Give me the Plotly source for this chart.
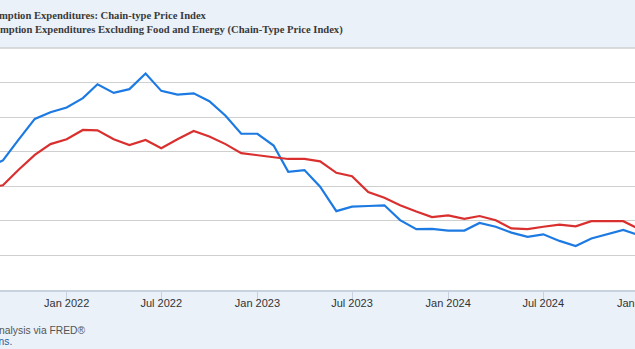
import datetime as dt
import plotly.graph_objects as go

months = ["2021-08", "2021-09", "2021-10", "2021-11", "2021-12",
          "2022-01", "2022-02", "2022-03", "2022-04", "2022-05", "2022-06",
          "2022-07", "2022-08", "2022-09", "2022-10", "2022-11", "2022-12",
          "2023-01", "2023-02", "2023-03", "2023-04", "2023-05", "2023-06",
          "2023-07", "2023-08", "2023-09", "2023-10", "2023-11", "2023-12",
          "2024-01", "2024-02", "2024-03", "2024-04", "2024-05", "2024-06",
          "2024-07", "2024-08", "2024-09", "2024-10", "2024-11", "2024-12",
          "2025-01"]

pce = [4.51, 4.75, 5.35, 5.95, 6.14,
       6.28, 6.55, 6.95, 6.70, 6.81, 7.26,
       6.76, 6.65, 6.69, 6.46, 6.04, 5.52,
       5.52, 5.18, 4.42, 4.47, 3.99, 3.28,
       3.41, 3.43, 3.45, 3.02, 2.76, 2.77,
       2.72, 2.72, 2.94, 2.83, 2.66, 2.54,
       2.61, 2.42, 2.27, 2.49, 2.61, 2.74,
       2.58]

core_pce = [3.95, 4.03, 4.48, 4.91, 5.22,
            5.36, 5.63, 5.62, 5.36, 5.19, 5.34,
            5.10, 5.36, 5.60, 5.44, 5.22, 4.96,
            4.91, 4.84, 4.79, 4.79, 4.72, 4.39,
            4.29, 3.83, 3.67, 3.45, 3.27, 3.11,
            3.16, 3.06, 3.14, 3.02, 2.78, 2.76,
            2.83, 2.89, 2.84, 2.99, 2.99, 2.99,
            2.76]

tick_dates = ["2022-01-01", "2022-07-01", "2023-01-01", "2023-07-01",
              "2024-01-01", "2024-07-01"]
tick_labels = ["Jan 2022", "Jul 2022", "Jan 2023", "Jul 2023",
               "Jan 2024", "Jul 2024"]
edge_tick_date = "2025-01-01"
edge_tick_label = "Jan 2025"

series1_name = "Personal Consumption Expenditures: Chain-type Price Index"
series2_name = "Personal Consumption Expenditures Excluding Food and Energy (Chain-Type Price Index)"
source_text = "Source: U.S. Bureau of Economic Analysis via FRED®"
recession_text = "Shaded areas indicate U.S. recessions."

dates = [m + "-01" for m in months]

W, H = 635, 349
T, B = 48, 59
plot_h = H - T - B

x_range = [dt.datetime(2021, 8, 26, 10), dt.datetime(2024, 12, 23, 12)]


def date_frac(s):
    d = dt.datetime.fromisoformat(s)
    return (d - x_range[0]).total_seconds() / (x_range[1] - x_range[0]).total_seconds()


fig = go.Figure()
fig.add_trace(go.Scatter(x=dates, y=pce, mode="lines", name=series1_name,
                         line=dict(color="#1c7ae2", width=2.2)))
fig.add_trace(go.Scatter(x=dates, y=core_pce, mode="lines", name=series2_name,
                         line=dict(color="#d9302f", width=2.2)))


def py(pix):
    return (H - B - pix) / plot_h


annotations = [
    dict(text="<b>" + series1_name + "</b>", x=209 / W, y=py(15.5), xanchor="right",
         yanchor="middle", font=dict(family="Liberation Serif", size=10.6, color="#3a3a3a")),
    dict(text="<b>" + series2_name + "</b>", x=345 / W, y=py(29.5), xanchor="right",
         yanchor="middle", font=dict(family="Liberation Serif", size=10.6, color="#3a3a3a")),
    dict(text=source_text, x=87.5 / W, y=py(330), xanchor="right", yanchor="middle",
         font=dict(family="Liberation Sans", size=10.3, color="#555555")),
    dict(text=recession_text, x=13.5 / W, y=py(341.5), xanchor="right", yanchor="middle",
         font=dict(family="Liberation Sans", size=10.3, color="#1f5fa8")),
    dict(text=edge_tick_label, x=date_frac(edge_tick_date), y=py(302.5), xanchor="center",
         yanchor="middle", font=dict(family="Liberation Sans", size=11, color="#333333")),
]
for a in annotations:
    a.update(xref="paper", yref="paper", showarrow=False)

fig.update_layout(
    width=W, height=H,
    margin=dict(l=0, r=0, t=T, b=B, pad=0),
    paper_bgcolor="#eaf1f9",
    plot_bgcolor="#ffffff",
    showlegend=False,
    annotations=annotations,
    xaxis=dict(type="date", range=[x.isoformat() for x in x_range],
               tickvals=tick_dates, ticktext=tick_labels,
               ticks="outside", ticklen=8, tickwidth=1, tickcolor="#c8d2de",
               ticklabelstandoff=-6,
               showgrid=False, showline=True, linecolor="#c8d2de", linewidth=1.5,
               tickfont=dict(family="Liberation Sans", size=11, color="#333333"),
               fixedrange=True),
    yaxis=dict(range=[1, 8], dtick=1, tick0=0, showticklabels=False,
               showgrid=True, gridcolor="#cfcfcf", gridwidth=1.4,
               zeroline=False, showline=False, fixedrange=True),
    shapes=[dict(type="line", xref="paper", yref="paper", x0=0, x1=1, y0=1, y1=1,
                 line=dict(color="#cfcfcf", width=1.4))],
)

fig.write_html("out.html")
